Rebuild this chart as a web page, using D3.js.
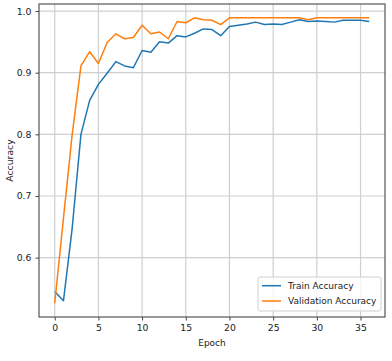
<!DOCTYPE html>
<html><head><meta charset="utf-8">
<script src="https://cdn.jsdelivr.net/npm/d3@7/dist/d3.min.js"></script>
<style>body{margin:0;background:#fff}svg{display:block}text{font-family:"DejaVu Sans",sans-serif;fill:#222}</style>
</head><body>
<script>
const epochs = d3.range(0, 37);
const trainAcc = [0.545,0.530,0.648,0.800,0.855,0.881,0.899,0.918,0.911,0.908,0.936,0.933,0.950,0.948,0.960,0.958,0.964,0.971,0.970,0.960,0.975,0.977,0.979,0.982,0.978,0.979,0.978,0.982,0.986,0.983,0.984,0.983,0.982,0.985,0.985,0.985,0.983];
const valAcc = [0.526,0.664,0.800,0.911,0.934,0.915,0.949,0.963,0.955,0.957,0.977,0.963,0.966,0.955,0.983,0.981,0.989,0.986,0.985,0.978,0.989,0.989,0.989,0.989,0.989,0.989,0.989,0.989,0.989,0.986,0.989,0.989,0.989,0.989,0.989,0.989,0.989];
const xTicks = [0,5,10,15,20,25,30,35];
const yTicks = [0.6,0.7,0.8,0.9,1.0];
const seriesNames = ["Train Accuracy","Validation Accuracy"];
const colors = ["#1f77b4","#ff7f0e"];

const W=392,H=361;
const L=39,R=385,T=4,B=317;
const FS=9;
const svg=d3.select("body").append("svg").attr("width",W).attr("height",H);
const x=d3.scaleLinear().domain([-1.8,37.8]).range([L,R]);
const y=d3.scaleLinear().domain([0.5037,1.0114]).range([B,T]);

// grid
const g=svg.append("g");
g.selectAll("line.vx").data(xTicks).join("line").attr("x1",d=>x(d)).attr("x2",d=>x(d)).attr("y1",T).attr("y2",B).attr("stroke","#cfcfcf").attr("stroke-width",1.2);
g.selectAll("line.hy").data(yTicks).join("line").attr("y1",d=>y(d)).attr("y2",d=>y(d)).attr("x1",L).attr("x2",R).attr("stroke","#cfcfcf").attr("stroke-width",1.2);

// axes
const xa=svg.append("g").attr("transform",`translate(0,${B})`).call(d3.axisBottom(x).tickValues(xTicks).tickSize(3.5).tickPadding(4).tickFormat(d3.format("d")));
const ya=svg.append("g").attr("transform",`translate(${L},0)`).call(d3.axisLeft(y).tickValues(yTicks).tickSize(3.5).tickPadding(4).tickFormat(d3.format(".1f")));
[xa,ya].forEach(a=>{a.select(".domain").remove();a.selectAll("line").attr("stroke","#444");a.selectAll("text").attr("font-size",FS+0.3).attr("font-family","DejaVu Sans").attr("fill","#222");});

// lines
const line=d3.line().x((d,i)=>x(epochs[i])).y(d=>y(d));
[trainAcc,valAcc].forEach((s,k)=>{
  svg.append("path").datum(s).attr("d",line).attr("fill","none").attr("stroke",colors[k]).attr("stroke-width",1.5).attr("stroke-linejoin","round");
});

// frame
svg.append("rect").attr("x",L).attr("y",T).attr("width",R-L).attr("height",B-T).attr("fill","none").attr("stroke","#555").attr("stroke-width",1.2);

// labels
svg.append("text").attr("x",(L+R)/2).attr("y",346).attr("text-anchor","middle").attr("font-size",FS).text("Epoch");
svg.append("text").attr("transform",`translate(13,${(T+B)/2}) rotate(-90)`).attr("text-anchor","middle").attr("font-size",FS+0.3).text("Accuracy");

// legend
const lg=svg.append("g");
lg.append("rect").attr("x",258).attr("y",277).attr("width",123).attr("height",34).attr("rx",2).attr("fill","#fff").attr("fill-opacity",0.8).attr("stroke","#d0d0d0");
seriesNames.forEach((n,i)=>{
  const yy=285.7+i*15.3;
  lg.append("line").attr("x1",262).attr("x2",281).attr("y1",yy).attr("y2",yy).attr("stroke",colors[i]).attr("stroke-width",1.5);
  lg.append("text").attr("x",288).attr("y",yy+3.2).attr("font-size",FS).text(n);
});
</script>
</body></html>
